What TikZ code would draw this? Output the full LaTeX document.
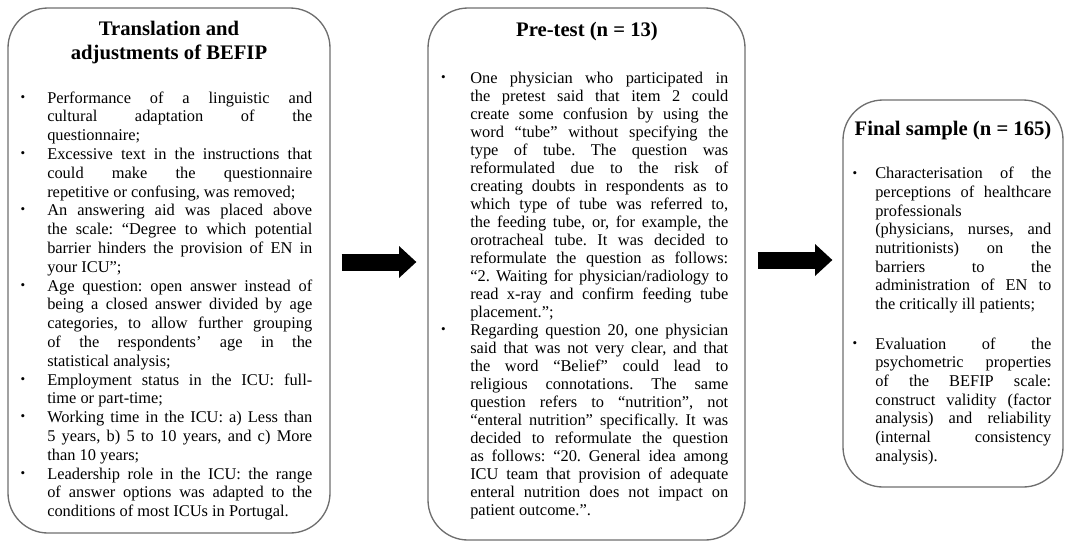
\documentclass[tikz,border=0pt]{standalone}
\usepackage{fontspec}
\setmainfont{Liberation Serif}
\usetikzlibrary{arrows.meta}
\definecolor{boxgray}{HTML}{6E6E6E}
\newcommand\bul{\raisebox{.25ex}{\scalebox{.8}{\textbullet}}}
\newcommand\bitem[1]{\par\noindent\llap{\bul\hspace{#1}}}
\newcommand\bodysetup{\frenchspacing\hyphenpenalty=10000\exhyphenpenalty=10000\tolerance=10000\parindent=0pt\leftskip=0pt\rightskip=0pt\parfillskip=0pt plus 1fil}
\tikzset{
  panel/.style={draw=boxgray, line width=1pt, rounded corners=30pt, inner sep=0pt},
  ttl/.style={font=\fontsize{15.5}{18}\selectfont\bfseries, align=center, inner sep=0pt, anchor=north},
  bodyA/.style={inner sep=0pt, anchor=north west, align=justify, font=\fontsize{12.3}{14.1}\selectfont},
  bodyB/.style={inner sep=0pt, anchor=north west, align=justify, font=\fontsize{12.3}{13.5}\selectfont},
  bodyC/.style={inner sep=0pt, anchor=north west, align=justify, font=\fontsize{12.3}{14}\selectfont},
  bigarrow/.style={line width=12.75pt, -{Triangle[length=13pt,width=24pt,line width=0pt]}}
}
\begin{document}
\begin{tikzpicture}[x=0.75pt,y=-0.75pt]
\useasboundingbox (0,0) rectangle (1066,547);
% panels
\node[panel, minimum width=322*0.75pt, minimum height=525*0.75pt] (b1) at (169,270.5) {};
\node[panel, minimum width=317*0.75pt, minimum height=532*0.75pt] (b2) at (586.5,274) {};
\node[panel, minimum width=220*0.75pt, minimum height=387*0.75pt] (b3) at (953,293.5) {};
% titles
\node[ttl] (t1) at (169,21) {Translation and\\adjustments of BEFIP};
\node[ttl] (t2) at (587,22) {Pre-test (n = 13)};
\node[ttl] (t3) at (953,121) {Final sample (n = 165)};
% bodies
\node[bodyA, text width=265*0.75pt] (p1) at (47,84) {\bodysetup
\bitem{16.5pt}Performance of a linguistic and\linebreak cultural adaptation of the\linebreak questionnaire;
\bitem{16.5pt}Excessive text in the instructions that\linebreak could make the questionnaire\linebreak repetitive or confusing, was removed;
\bitem{16.5pt}An answering aid was placed above\linebreak the scale: ``Degree to which potential\linebreak barrier hinders the provision of EN in\linebreak your ICU'';
\bitem{16.5pt}Age question: open answer instead of\linebreak being a closed answer divided by age\linebreak categories, to allow further grouping\linebreak of the respondents' age in the\linebreak statistical analysis;
\bitem{16.5pt}Employment status in the ICU: full-\linebreak time or part-time;
\bitem{16.5pt}Working time in the ICU: a) Less than\linebreak 5 years, b) 5 to 10 years, and c) More\linebreak than 10 years;
\bitem{16.5pt}Leadership role in the ICU: the range\linebreak of answer options was adapted to the\linebreak conditions of most ICUs in Portugal.\par};
\node[bodyB, text width=258*0.75pt] (p2) at (470,65) {\bodysetup
\bitem{18.5pt}One physician who participated in\linebreak the pretest said that item 2 could\linebreak create some confusion by using the\linebreak word ``tube'' without specifying the\linebreak type of tube. The question was\linebreak reformulated due to the risk of\linebreak creating doubts in respondents as to\linebreak which type of tube was referred to,\linebreak the feeding tube, or, for example, the\linebreak orotracheal tube. It was decided to\linebreak reformulate the question as follows:\linebreak ``2. Waiting for physician/radiology to\linebreak read x-ray and confirm feeding tube\linebreak placement.'';
\bitem{18.5pt}Regarding question 20, one physician\linebreak said that was not very clear, and that\linebreak the word ``Belief'' could lead to\linebreak religious connotations. The same\linebreak question refers to ``nutrition'', not\linebreak ``enteral nutrition'' specifically. It was\linebreak decided to reformulate the question\linebreak as follows: ``20. General idea among\linebreak ICU team that provision of adequate\linebreak enteral nutrition does not impact on\linebreak patient outcome.''.\par};
\node[bodyC, text width=176*0.75pt] (p3) at (875,160) {\bodysetup
\bitem{13.5pt}Characterisation of the\linebreak perceptions of healthcare\linebreak professionals\newline (physicians, nurses, and\linebreak nutritionists) on the\linebreak barriers to the\linebreak administration of EN to\linebreak the critically ill patients;\par
\vspace{15.75pt}
\bitem{13.5pt}Evaluation of the\linebreak psychometric properties\linebreak of the BEFIP scale:\linebreak construct validity (factor\linebreak analysis) and reliability\linebreak (internal consistency\linebreak analysis).\par};
% arrows
\coordinate (a1s) at ([shift={(11,-8.5)}]b1.east);
\coordinate (a2s) at ([shift={(12,-14)}]b2.east);
\draw[bigarrow, shorten >=8.25pt] (a1s) -- (a1s -| b2.west);
\draw[bigarrow, shorten >=7.5pt] (a2s) -- (a2s -| b3.west);
\end{tikzpicture}
\end{document}
